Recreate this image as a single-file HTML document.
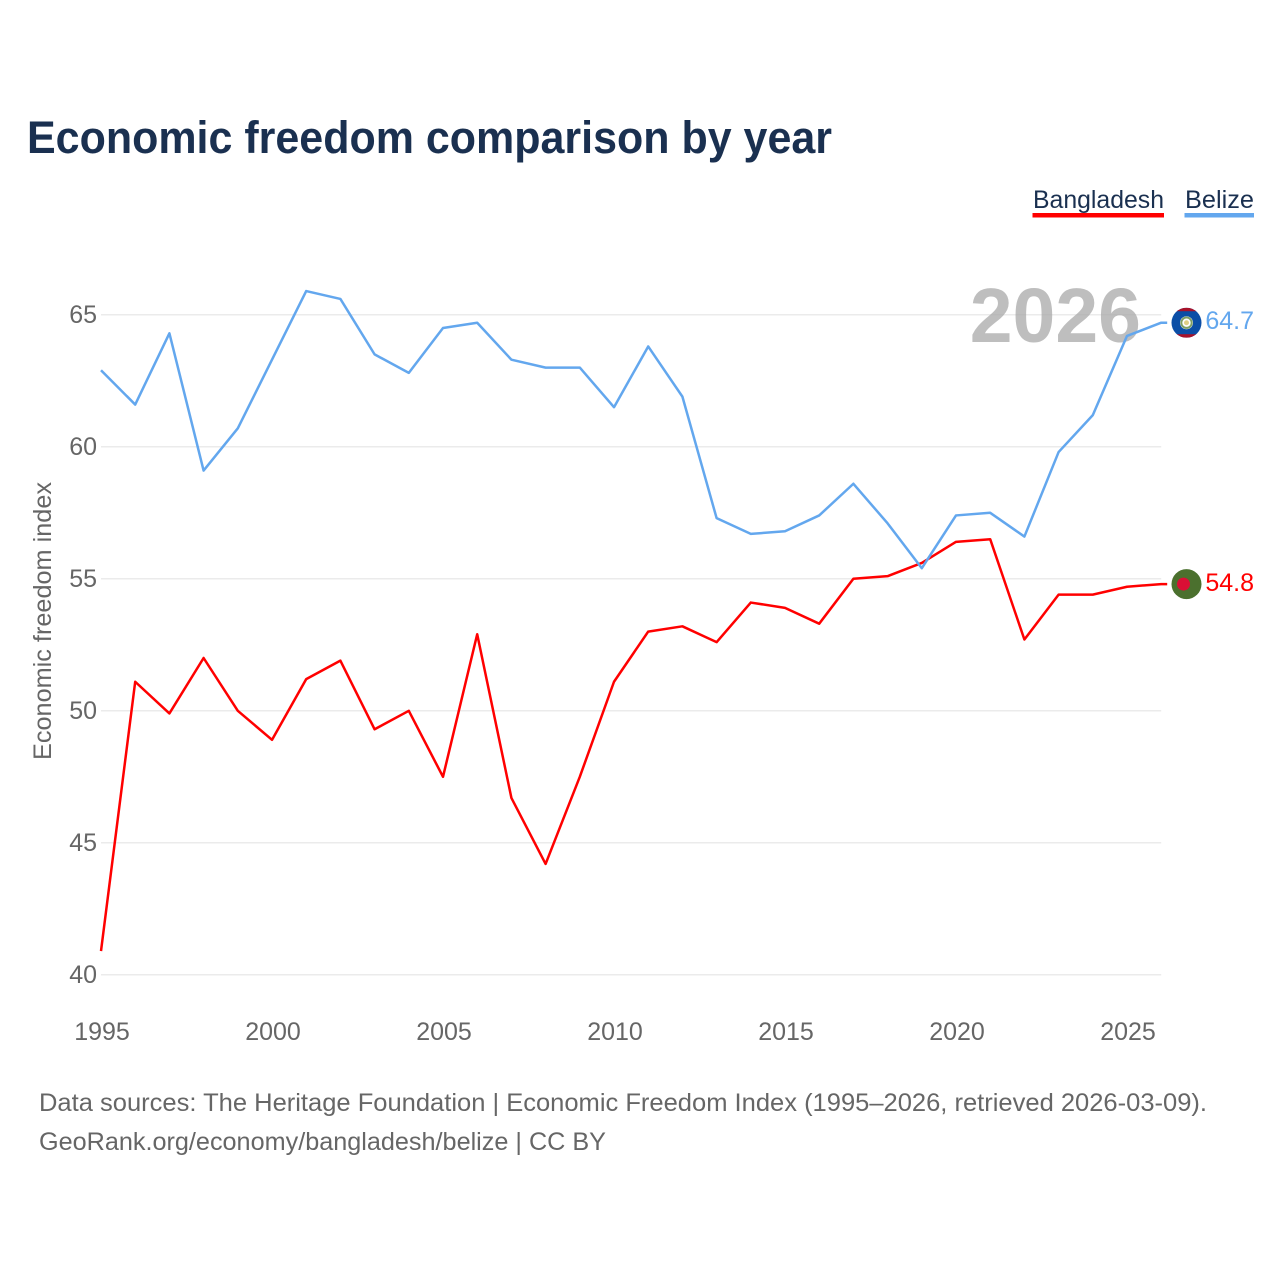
<!DOCTYPE html>
<html lang="en">
<head>
<meta charset="utf-8">
<title>Economic freedom comparison by year</title>
<style>
html,body{margin:0;padding:0;background:#fff}
svg{display:block;font-family:"Liberation Sans",sans-serif}
</style>
</head>
<body>
<svg id="chart" width="1280" height="1280" viewBox="0 0 1280 1280" xmlns="http://www.w3.org/2000/svg">
  <rect x="0" y="0" width="1280" height="1280" fill="#ffffff"/>
  <text x="27" y="153" font-size="45" font-weight="700" fill="#1a3050" textLength="805" lengthAdjust="spacingAndGlyphs">Economic freedom comparison by year</text>

  <g>
    <g>
      <text x="1033" y="208" font-size="25" fill="#1a3050" textLength="131" lengthAdjust="spacingAndGlyphs">Bangladesh</text>
      <rect x="1032.5" y="213" width="131.5" height="4.5" fill="#ff0000"/>
    </g>
    <g>
      <text x="1185" y="208" font-size="25" fill="#1a3050" textLength="69" lengthAdjust="spacingAndGlyphs">Belize</text>
      <rect x="1184.5" y="213" width="69.5" height="4.5" fill="#63a7ee"/>
    </g>
  </g>

  <g id="grid"></g>
  <g id="yticks"></g>
  <g id="xticks"></g>

  <text transform="translate(51 760) rotate(-90)" font-size="25" fill="#666666" textLength="278" lengthAdjust="spacingAndGlyphs">Economic freedom index</text>
  <text x="1141" y="342" text-anchor="end" font-size="77" font-weight="700" fill="#a8a8a8" fill-opacity="0.75">2026</text>

  <g id="series"></g>

  <g id="flag-belize">
    <defs>
      <clipPath id="clip-belize"><circle cx="0" cy="0" r="15"/></clipPath>
    </defs>
    <g clip-path="url(#clip-belize)">
      <rect x="-15" y="-15" width="30" height="30" fill="#0b4ea6"/>
      <rect x="-15" y="-15" width="30" height="3.5" fill="#a8122a"/>
      <rect x="-15" y="11.5" width="30" height="3.5" fill="#a8122a"/>
    </g>
    <circle cx="0" cy="0" r="6.5" fill="#ffffff"/>
    <circle cx="0" cy="0" r="5.2" fill="none" stroke="#7f9f63" stroke-width="2"/>
    <circle cx="0" cy="0" r="2.5" fill="#e0cf85"/>
  </g>
  <g id="flag-bangladesh">
    <circle cx="0" cy="0" r="15" fill="#4b702e"/>
    <circle cx="-3" cy="0" r="6.5" fill="#da0f35"/>
  </g>
  <g id="end-labels"></g>

  <text x="39" y="1111" font-size="25" fill="#666666" textLength="1168" lengthAdjust="spacingAndGlyphs">Data sources: The Heritage Foundation | Economic Freedom Index (1995–2026, retrieved 2026-03-09).</text>
  <text x="39" y="1150" font-size="25" fill="#666666" textLength="567" lengthAdjust="spacingAndGlyphs">GeoRank.org/economy/bangladesh/belize | CC BY</text>
</svg>
<script>
const years = [1995,1996,1997,1998,1999,2000,2001,2002,2003,2004,2005,2006,2007,2008,2009,2010,2011,2012,2013,2014,2015,2016,2017,2018,2019,2020,2021,2022,2023,2024,2025,2026];
const bangladesh = [40.9,51.1,49.9,52.0,50.0,48.9,51.2,51.9,49.3,50.0,47.5,52.9,46.7,44.2,47.5,51.1,53.0,53.2,52.6,54.1,53.9,53.3,55.0,55.1,55.6,56.4,56.5,52.7,54.4,54.4,54.7,54.8];
const belize = [62.9,61.6,64.3,59.1,60.7,63.3,65.9,65.6,63.5,62.8,64.5,64.7,63.3,63.0,63.0,61.5,63.8,61.9,57.3,56.7,56.8,57.4,58.6,57.1,55.4,57.4,57.5,56.6,59.8,61.2,64.2,64.7];
const yTickValues = [40,45,50,55,60,65];
const xTickValues = [1995,2000,2005,2010,2015,2020,2025];

const NS = 'http://www.w3.org/2000/svg';
const xScale = function (year) { return 101 + (year - 1995) * 34.2; };
const yScale = function (value) { return 974.8 - (value - 40) * 26.4; };
const colorBangladesh = '#ff0000';
const colorBelize = '#63a7ee';

function svgEl(tag, parentId) {
  const el = document.createElementNS(NS, tag);
  document.getElementById(parentId).appendChild(el);
  return el;
}

yTickValues.forEach(function (v) {
  const line = svgEl('line', 'grid');
  
  
  line.setAttribute('x1', xScale(1995));
  line.setAttribute('x2', xScale(2026));
  line.setAttribute('y1', yScale(v));
  line.setAttribute('y2', yScale(v));
  line.setAttribute('stroke', '#ebebeb');
  line.setAttribute('stroke-width', '1.5');

  const label = svgEl('text', 'yticks');
  
  
  label.setAttribute('x', 97);
  label.setAttribute('y', yScale(v) + 8);
  label.setAttribute('text-anchor', 'end');
  label.setAttribute('font-size', '25');
  label.setAttribute('fill', '#666666');
  label.textContent = String(v);
});

xTickValues.forEach(function (y) {
  const label = svgEl('text', 'xticks');
  
  
  label.setAttribute('x', xScale(y) + 1);
  label.setAttribute('y', 1040);
  label.setAttribute('text-anchor', 'middle');
  label.setAttribute('font-size', '25');
  label.setAttribute('fill', '#666666');
  label.textContent = String(y);
});

function pathFor(values) {
  const pts = values.map(function (v, i) {
    return xScale(years[i]).toFixed(2) + ',' + yScale(v).toFixed(2);
  });
  const last = values[values.length - 1];
  pts.push((xScale(years[years.length - 1]) + 6).toFixed(2) + ',' + yScale(last).toFixed(2));
  return 'M' + pts.join('L');
}

const lineBangladesh = svgEl('path', 'series');


lineBangladesh.setAttribute('d', pathFor(bangladesh));
lineBangladesh.setAttribute('fill', 'none');
lineBangladesh.setAttribute('stroke', colorBangladesh);
lineBangladesh.setAttribute('stroke-width', '2.5');
lineBangladesh.setAttribute('stroke-linejoin', 'round');

const lineBelize = svgEl('path', 'series');


lineBelize.setAttribute('d', pathFor(belize));
lineBelize.setAttribute('fill', 'none');
lineBelize.setAttribute('stroke', colorBelize);
lineBelize.setAttribute('stroke-width', '2.5');
lineBelize.setAttribute('stroke-linejoin', 'round');

const lastBelize = belize[belize.length - 1];
const lastBangladesh = bangladesh[bangladesh.length - 1];

document.getElementById('flag-belize').setAttribute('transform', 'translate(1186.5 ' + yScale(lastBelize) + ')');
document.getElementById('flag-bangladesh').setAttribute('transform', 'translate(1186.5 ' + yScale(lastBangladesh) + ')');

const valueBelize = svgEl('text', 'end-labels');


valueBelize.setAttribute('x', 1254);
valueBelize.setAttribute('y', yScale(lastBelize) + 6.5);
valueBelize.setAttribute('text-anchor', 'end');
valueBelize.setAttribute('font-size', '25');
valueBelize.setAttribute('fill', colorBelize);
valueBelize.textContent = lastBelize.toFixed(1);

const valueBangladesh = svgEl('text', 'end-labels');


valueBangladesh.setAttribute('x', 1254);
valueBangladesh.setAttribute('y', yScale(lastBangladesh) + 7);
valueBangladesh.setAttribute('text-anchor', 'end');
valueBangladesh.setAttribute('font-size', '25');
valueBangladesh.setAttribute('fill', colorBangladesh);
valueBangladesh.textContent = lastBangladesh.toFixed(1);
</script>
</body>
</html>
